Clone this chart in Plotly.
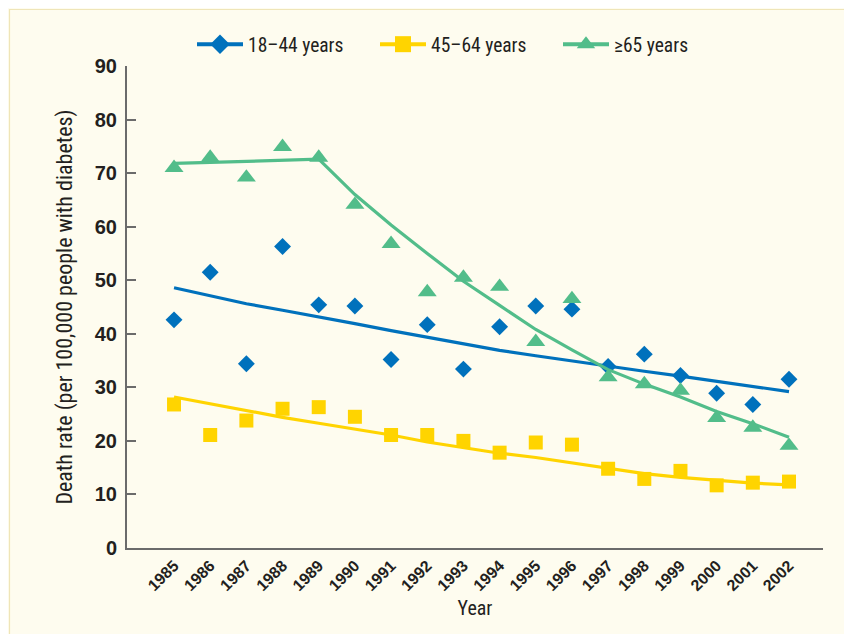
import plotly.graph_objects as go

years = list(range(1985, 2003))
year_labels = [str(y) for y in years]

# 18-44 years
young_points = [42.6, 51.5, 34.4, 56.3, 45.4, 45.2, 35.2, 41.7, 33.4, 41.3, 45.2, 44.6, 33.9, 36.2, 32.2, 28.9, 26.8, 31.5]
young_trend = [48.6, 47.1, 45.6, 44.4, 43.2, 41.9, 40.6, 39.4, 38.1, 36.9, 35.9, 34.9, 34.0, 33.0, 32.1, 31.1, 30.1, 29.2]

# 45-64 years
mid_points = [26.8, 21.1, 23.8, 26.0, 26.3, 24.5, 21.1, 21.1, 20.0, 17.8, 19.7, 19.3, 14.8, 12.9, 14.4, 11.7, 12.2, 12.4]
mid_trend = [28.2, 26.9, 25.6, 24.4, 23.3, 22.2, 21.1, 19.8, 18.7, 17.7, 16.9, 15.9, 14.9, 13.9, 13.2, 12.6, 12.1, 11.8]

# >=65 years
old_points = [71.0, 72.9, 69.2, 74.9, 72.9, 64.1, 56.8, 47.8, 50.5, 48.8, 38.5, 46.5, 31.9, 30.6, 29.4, 24.3, 22.5, 19.1]
old_trend = [71.8, 72.0, 72.2, 72.4, 72.6, 66.0, 60.3, 55.0, 49.8, 45.3, 40.8, 37.0, 33.3, 30.6, 28.2, 25.5, 23.2, 20.7]

series_names = ["18\u201344 years", "45\u201364 years", "\u226565 years"]
y_ticks = [0, 10, 20, 30, 40, 50, 60, 70, 80, 90]

BLUE = "#0071BC"
YELLOW = "#FFD400"
GREEN = "#52BD8A"
TEXT = "#231F20"
AXIS = "#6B6B6B"
CREAM = "#FEFCEF"

NARROW = "Liberation Sans Narrow, Roboto Condensed, Arial Narrow, Liberation Sans, sans-serif"
BOLD = "Liberation Sans, Arial, sans-serif"

W, H = 844, 626
L, R, T, B = 119, 29, 58, 86

fig = go.Figure()

specs = [
    (young_points, young_trend, BLUE, "diamond", 13),
    (mid_points, mid_trend, YELLOW, "square", 14),
    (old_points, old_trend, GREEN, "triangle-up", 16.5),
]

for name, (pts, trend, color, sym, size) in zip(series_names, specs):
    fig.add_trace(go.Scatter(
        x=years, y=trend, mode="lines",
        line=dict(color=color, width=3.2),
        showlegend=False, hoverinfo="skip", legendgroup=name,
    ))
    fig.add_trace(go.Scatter(
        x=years, y=pts, mode="markers",
        marker=dict(symbol=sym, size=size, color=color, line=dict(width=0)),
        showlegend=False, legendgroup=name, name=name,
    ))

for name, (pts, trend, color, sym, size) in zip(series_names, specs):
    fig.add_trace(go.Scatter(
        x=[None], y=[None], mode="lines+markers", name=name,
        line=dict(color=color, width=4),
        marker=dict(symbol=sym, size=size + 2, color=color),
        legendgroup=name, showlegend=True,
    ))

# thin frame line along the top and left edges of the figure
pw, ph = W - L - R, H - T - B
fig.add_shape(
    type="rect", xref="paper", yref="paper",
    x0=(1.5 - L) / pw, x1=(W + 5 - L) / pw,
    y0=-(B + 5) / ph, y1=1 + (T - 1.5) / ph,
    fillcolor="rgba(0,0,0,0)", line=dict(color="#EFE5B8", width=1.2), layer="below",
)

fig.update_layout(
    width=W, height=H,
    margin=dict(l=L, r=R, t=T, b=B, autoexpand=False),
    paper_bgcolor=CREAM,
    plot_bgcolor=CREAM,
    font=dict(family=NARROW, color=TEXT),
    showlegend=True,
    legend=dict(
        orientation="h", xref="container", yref="container",
        x=184 / W, y=1 - 17 / H, xanchor="left", yanchor="top",
        font=dict(family=NARROW, size=19.5, color=TEXT),
        bgcolor="rgba(0,0,0,0)",
        entrywidth=122, entrywidthmode="pixels",
        itemwidth=46,
    ),
    xaxis=dict(
        range=[1983.70, 2002.94],
        tickmode="array", tickvals=years, ticktext=year_labels,
        tickangle=-45,
        tickfont=dict(family=BOLD, size=16, color=TEXT, weight="bold"),
        showgrid=False, zeroline=False,
        showline=True, linecolor=AXIS, linewidth=2,
        ticks="",
        title=dict(text="Year", font=dict(family=NARROW, size=20, color=TEXT), standoff=8),
    ),
    yaxis=dict(
        range=[0, 90],
        tickmode="array", tickvals=y_ticks,
        tickfont=dict(family=BOLD, size=20, color=TEXT, weight="bold"),
        showgrid=False, zeroline=False,
        showline=True, linecolor=AXIS, linewidth=2,
        ticks="inside", ticklen=9, tickwidth=2, tickcolor=AXIS,
        ticklabelstandoff=4,
        title=dict(text="Death rate (per 100,000 people with diabetes)",
                   font=dict(family=NARROW, size=22, color=TEXT), standoff=16),
    ),
)

fig.write_html("out.html")
